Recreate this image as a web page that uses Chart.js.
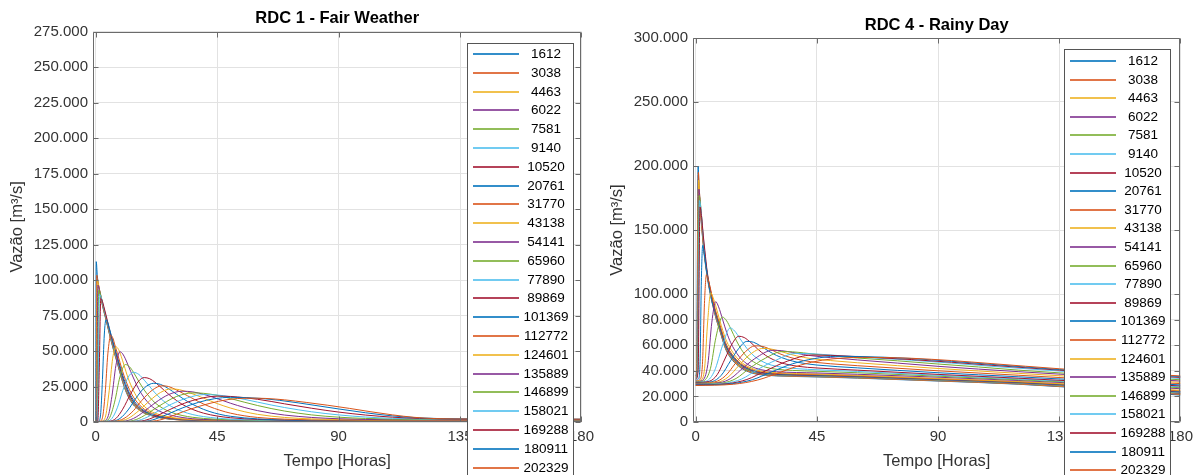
<!DOCTYPE html>
<html>
<head>
<meta charset="utf-8">
<script src="https://cdn.jsdelivr.net/npm/chart.js@4.4.1/dist/chart.umd.min.js"></script>
<style>
  html, body { margin: 0; padding: 0; background: #fff; overflow: hidden; }
  #wrap { position: relative; width: 1199px; height: 475px; }
  canvas { position: absolute; top: 0; }
</style>
</head>
<body>
<div id="wrap">
  <canvas id="c1" width="600" height="475" style="left:0"></canvas>
  <canvas id="c2" width="599" height="475" style="left:600px"></canvas>
</div>
<script>
// ---------- DATA (flows in thousands of m³/s, time in hours) ----------
const stations = ['1612','3038','4463','6022','7581','9140','10520','20761','31770','43138','54141','65960','77890','89869','101369','112772','124601','135889','146899','158021','169288','180911','202329'];

const xTicks = [0, 45, 90, 135, 180];
const fairYTicks = [0, 25000, 50000, 75000, 100000, 125000, 150000, 175000, 200000, 225000, 250000, 275000];
const rainyYTicks = [0, 20000, 40000, 60000, 80000, 100000, 150000, 200000, 250000, 300000];

// RDC 1 - Fair Weather : [hour, flow (x1000 m³/s)]
const fairSeries = [
  [[0,0.5],[0.2,113],[0.6,103],[1,97],[2,86.5],[3,78],[4,70.5],[5,62.5],[6,55],[7,48],[8,41.5],[9,34.5],[10,28],[11,22.5],[12,18],[14,12],[16,8.6],[18,6.2],[20,4.8],[22,3.7],[25,2.6],[28,1.9],[32,1.4],[40,1],[60,0.7],[180,0.5]],
  [[0,0.4],[0.2,3],[0.4,103.5],[0.8,99],[1.2,94.5],[2,87],[3,78.5],[4,71],[5,63],[6,55.5],[7,48.5],[8,42],[9,35],[10,28.5],[11,23],[12,18.5],[14,12.3],[16,8.8],[18,6.3],[20,4.9],[22,3.8],[25,2.7],[28,1.9],[32,1.4],[40,1],[60,0.7],[180,0.5]],
  [[0,0.4],[0.3,2],[0.6,100],[1,97.5],[1.5,92.5],[2,87.5],[3,79],[4,71.5],[5,63.5],[6,56],[7,49],[8,42.5],[9,35.5],[10,29],[11,23.5],[12,19],[14,12.6],[16,9],[18,6.5],[20,5],[22,3.9],[25,2.8],[28,2],[32,1.5],[40,1.1],[60,0.7],[180,0.5]],
  [[0,0.3],[0.4,1.5],[0.8,96.5],[1.2,95],[1.6,91.5],[2,88],[3,79.5],[4,72],[5,64],[6,56.5],[7,49.5],[8,43],[9,36],[10,29.5],[11,24],[12,19.5],[14,13],[16,9.2],[18,6.7],[20,5.1],[22,4],[25,2.9],[28,2.1],[32,1.5],[40,1.1],[60,0.7],[180,0.5]],
  [[0,0.3],[0.5,1.2],[0.8,30],[1.1,93],[1.5,92],[2,88.5],[3,80],[4,72.5],[5,64.5],[6,57],[7,50],[8,43.5],[9,36.5],[10,30],[11,24.5],[12,20],[14,13.4],[16,9.5],[18,6.9],[20,5.3],[22,4.1],[25,3],[28,2.2],[32,1.6],[40,1.1],[60,0.8],[180,0.6]],
  [[0,0.3],[0.6,1],[1,35],[1.4,90],[2,88],[3,80.5],[4,73],[5,65],[6,57.5],[7,50.5],[8,44],[9,37],[10,30.5],[11,25],[12,20.5],[14,13.8],[16,9.8],[18,7.1],[20,5.4],[22,4.2],[25,3.1],[28,2.3],[32,1.6],[40,1.2],[60,0.8],[180,0.6]],
  [[0,0.3],[0.8,1],[1.3,35],[1.9,87],[2.5,85],[3,81.5],[4,74],[5,66],[6,58.5],[7,51.5],[8,45],[9,38],[10,31.5],[11,26],[12,21.3],[14,14.3],[16,10.2],[18,7.4],[20,5.6],[22,4.4],[25,3.2],[28,2.4],[32,1.7],[40,1.2],[60,0.8],[180,0.6]],
  [[0,0.2],[1,0.5],[1.8,5],[2.5,30],[3.2,62],[3.8,72],[4.5,70],[5,66.5],[6,59.5],[7,52.5],[8,46],[9,39.5],[10,33],[11,27.5],[12,22.5],[14,15.5],[16,11],[18,8],[20,6],[22,4.7],[25,3.4],[28,2.5],[32,1.8],[40,1.3],[60,0.9],[180,0.6]],
  [[0,0.2],[1.5,0.5],[2.5,3],[3.5,20],[4.5,48],[5.6,61],[6.5,58.5],[7,55],[8,48.5],[9,42],[10,35.5],[11,30],[12,25],[14,17.5],[16,12.5],[18,9],[20,6.8],[22,5.2],[25,3.8],[28,2.8],[32,2],[40,1.4],[60,0.9],[180,0.7]],
  [[0,0.2],[2,0.5],[3.5,3],[5,22],[6.3,45],[7.5,53],[8.5,51],[9.5,46],[10.5,40],[12,31],[14,22],[16,15.5],[18,11],[20,8],[22,6.2],[25,4.5],[28,3.3],[32,2.3],[40,1.5],[60,1],[180,0.7]],
  [[0,0.2],[2.5,0.5],[4.5,3.5],[6,18],[7.5,40],[9,49.5],[10,48],[11,44.5],[12,40],[14,31],[16,23],[18,17],[20,12.5],[22,9.3],[25,6.5],[28,4.7],[32,3.2],[36,2.3],[40,1.8],[50,1.2],[70,0.9],[180,0.7]],
  [[0,0.2],[3,0.5],[5,2.5],[7,14],[9,32],[11,40.5],[12.5,39],[14,35],[16,28.5],[18,22.5],[20,17.5],[22,13.5],[25,9.5],[28,6.8],[32,4.6],[36,3.3],[40,2.5],[50,1.5],[70,1],[180,0.8]],
  [[0,0.2],[4,0.5],[6,2.5],[8,10],[10,22],[12,31.5],[14,35],[16,33.5],[18,29.5],[20,25],[22,20.5],[25,15],[28,11],[32,7.5],[36,5.2],[40,3.8],[45,2.7],[50,2],[60,1.4],[80,1],[180,0.8]],
  [[0,0.2],[5,0.5],[7.5,2.5],[10,9],[13,20],[16,29],[18,31.3],[20,30.5],[22,28],[25,23],[28,18],[32,12.5],[36,8.8],[40,6.2],[45,4.2],[50,3],[60,1.8],[80,1.1],[180,0.9]],
  [[0,0.2],[6,0.5],[9,2.5],[12,8.5],[15,17],[18,24],[21.5,27.3],[24,26.5],[27,23.5],[30,19.5],[34,14.5],[38,10.5],[42,7.5],[46,5.4],[50,4],[60,2.2],[80,1.2],[180,1]],
  [[0,0.2],[7,0.5],[10.5,2.5],[14,8],[17,15],[21,22.5],[24.5,25.5],[27,25],[30,22.5],[34,18.5],[38,14.5],[42,11],[46,8.3],[50,6.2],[55,4.4],[60,3.2],[70,2],[90,1.3],[180,1.1]],
  [[0,0.2],[8,0.5],[12,2.5],[16,8],[20,15],[24,20.8],[28,23.3],[31,22.8],[35,20.5],[40,16.8],[45,13],[50,9.8],[55,7.3],[60,5.4],[70,3.2],[80,2.2],[100,1.5],[180,1.2]],
  [[0,0.2],[10,0.5],[14,2.5],[18,7.5],[22,13.5],[27,19.3],[32,21.7],[36,21.2],[40,19.5],[45,16.5],[50,13.2],[55,10.3],[60,8],[65,6.2],[70,4.9],[80,3.2],[90,2.3],[110,1.6],[180,1.3]],
  [[0,0.2],[12,0.5],[16,2.5],[20,7],[25,13],[30,18],[36,20.5],[40,20.2],[45,18.8],[50,16.5],[55,14],[60,11.6],[65,9.5],[70,7.7],[80,5],[90,3.4],[100,2.5],[120,1.8],[180,1.5]],
  [[0,0.2],[14,0.5],[18,2.5],[23,7.5],[28,12.5],[34,17],[40,19.3],[45,19],[50,17.8],[55,16],[60,14],[65,12],[70,10.2],[80,7.2],[90,5],[100,3.5],[110,2.6],[125,2],[180,1.7]],
  [[0,0.2],[16,0.5],[20,2.2],[25,6.5],[30,11],[36,15.2],[45,18.2],[50,18],[55,17.2],[60,16],[65,14.5],[70,12.8],[80,9.7],[90,7],[100,4.9],[110,3.4],[120,2.5],[135,2],[180,1.8]],
  [[0,0.2],[18,0.5],[22,2],[27,5.8],[32,9.8],[38,13.8],[44,16.4],[50,17.4],[56,17.2],[62,16.5],[68,15.3],[75,13.5],[82,11.5],[90,9.2],[100,6.5],[110,4.3],[120,2.9],[135,2.2],[180,2]],
  [[0,0.2],[20,0.5],[25,2],[30,5.5],[35,9],[42,13],[49,15.8],[56,16.8],[63,16.6],[70,15.6],[78,13.8],[86,11.8],[94,9.6],[102,7.2],[110,5],[118,3.3],[126,2.4],[140,2.1],[180,2]]
];

// RDC 4 - Rainy Day : [hour, flow (x1000 m³/s)]
const rainySeries = [
  [[0,36],[0.3,40],[0.9,200],[1.3,178],[2,158],[3,134],[4.3,113],[5.5,99],[7.4,82],[9,71],[11.1,57],[13,50],[16,43.5],[19,39.7],[22.3,37.5],[26,36.5],[30,36],[45,35.2],[60,34.3],[90,32],[120,29.5],[150,25.5],[180,21]],
  [[0,35.5],[0.4,40],[1,195],[1.4,177],[2,159],[3,135],[4.3,114],[5.5,100],[7.4,82.5],[9,71.5],[11.1,57.5],[13,50.5],[16,44],[19,40],[22.3,37.8],[26,36.8],[30,36.2],[45,35.4],[60,34.5],[90,32.2],[120,29.7],[150,25.8],[180,21.5]],
  [[0,35],[0.5,40],[1.1,189],[1.5,176],[2,160],[3,136],[4.3,114.5],[5.5,100.5],[7.4,83],[9,72],[11.1,58],[13,51],[16,44.4],[19,40.4],[22.3,38],[26,37],[30,36.4],[45,35.6],[60,34.7],[90,32.4],[120,30],[150,26.2],[180,22]],
  [[0,34.5],[0.6,40],[1.2,182],[1.6,174],[2.2,158],[3,137],[4.3,115],[5.5,101],[7.4,83.5],[9,72.5],[11.1,58.5],[13,51.5],[16,44.8],[19,40.8],[22.3,38.3],[26,37.2],[30,36.6],[45,35.8],[60,34.9],[90,32.6],[120,30.2],[150,26.5],[180,22.3]],
  [[0,34],[0.7,40],[1.3,177],[1.8,170],[2.4,155],[3,138],[4.3,115.5],[5.5,101.5],[7.4,84],[9,73],[11.1,59],[13,52],[16,45.2],[19,41.2],[22.3,38.6],[26,37.5],[30,36.8],[45,36],[60,35.1],[90,32.8],[120,30.4],[150,26.8],[180,22.6]],
  [[0,33.5],[0.8,40],[1.4,173],[2,165],[2.6,150],[3.2,136],[4.3,116],[5.5,102],[7.4,84.5],[9,73.5],[11.1,59.5],[13,52.5],[16,45.6],[19,41.5],[22.3,38.9],[26,37.8],[30,37],[45,36.2],[60,35.3],[90,33],[120,30.6],[150,27],[180,23]],
  [[0,33],[0.9,40],[1.6,168],[2.2,160],[2.8,146],[3.4,134],[4.3,117],[5.5,103],[7.4,85],[9,74],[11.1,60],[13,53],[16,46],[19,41.8],[22.3,39.2],[26,38],[30,37.2],[45,36.4],[60,35.5],[90,33.2],[120,30.8],[150,27.3],[180,23.4]],
  [[0,32.5],[1,33.5],[1.6,45],[2.1,110],[2.6,138],[3.2,131],[4,119],[5,106],[6.2,93],[7.4,85.5],[9,74.5],[11.1,60.5],[13,53.5],[16,46.4],[19,42.2],[22.3,39.5],[26,38.3],[30,37.5],[45,36.6],[60,35.7],[90,33.4],[120,31],[150,27.6],[180,23.8]],
  [[0,32],[1.5,33],[2.5,45],[3.3,95],[4,115],[4.7,111],[5.5,104],[6.5,94],[7.4,87],[9,76],[11.1,62],[13,54.5],[16,47],[19,42.8],[22.3,40],[26,38.7],[30,37.9],[45,37],[60,36],[90,33.7],[120,31.3],[150,28],[180,24.3]],
  [[0,31.8],[2,32.8],[3.3,42],[4.5,80],[5.6,101],[6.5,97],[7.4,91],[9,79],[11.1,65],[13,57],[16,48.5],[19,43.8],[22.3,40.8],[26,39.3],[30,38.5],[45,37.5],[60,36.5],[90,34],[120,31.6],[150,28.3],[180,24.8]],
  [[0,31.5],[2.5,32.5],[4.5,45],[6,78],[7.4,94],[8.5,90],[10,80],[11.5,70],[13,62],[16,51.5],[19,45.5],[22.3,42],[26,40.2],[30,39.3],[45,38.3],[60,37.3],[90,35],[120,32.4],[150,29.4],[180,26]],
  [[0,31.2],[3,32.2],[5.5,42],[7.5,66],[9.9,82],[11.5,79],[13,73],[15,64],[17,56.5],[19,51],[22.3,46],[26,42.8],[30,41.2],[36,40.3],[45,39.6],[60,38.5],[90,35.8],[120,33],[150,30],[180,26.8]],
  [[0,31],[4,32],[7,40],[10,60],[12.8,73.5],[14.5,71],[16.5,65],[19,57.5],[22,51],[25,47],[28,44.5],[32,42.8],[38,41.6],[45,40.8],[60,39.5],[90,36.5],[120,33.6],[150,30.5],[180,27.5]],
  [[0,30.8],[5,31.8],[8,37],[11,50],[13.5,61],[16,67],[18,66],[20.5,62],[23,57],[26,52],[29,48.5],[33,45.5],[38,43.5],[45,42.2],[60,40.5],[90,37.2],[120,34.2],[150,31],[180,28.2]],
  [[0,30.5],[6,31.5],[9.5,36.5],[13,48],[16,57.5],[19,63],[21.5,62.3],[24,59.5],[27,55.5],[30,52],[34,48.8],[38,46.6],[45,44.5],[60,42.3],[90,38.5],[120,35.3],[150,32],[180,29]],
  [[0,30.3],[7,31.3],[11,36],[15,46.5],[18.5,55],[22,59.5],[25,59],[28,56.5],[31,53.5],[35,50.5],[40,48],[45,46.5],[50,45.5],[60,44],[90,40],[120,36.5],[150,33],[180,30]],
  [[0,30],[8,31],[12,35],[16,44],[20,52.5],[25,57.5],[28,57],[31,55.5],[35,53],[40,50.5],[45,49],[50,48],[60,46.3],[75,44],[90,41.8],[120,38],[150,34.3],[180,31]],
  [[0,29.8],[9,30.8],[13,34],[18,43],[23,51],[28.5,56],[32,55.7],[36,54.3],[40,52.7],[45,51.3],[50,50.3],[60,48.5],[75,46],[90,43.5],[120,39.3],[150,35.5],[180,32]],
  [[0,29.5],[10,30.5],[15,34],[20,42],[26,50],[32,55],[36,54.8],[40,54],[45,52.8],[50,51.8],[60,50],[75,47.8],[90,45.3],[105,43],[120,40.5],[150,36.5],[180,33]],
  [[0,29.3],[11,30.3],[17,33.5],[23,41],[30,48.5],[37,53.5],[42,53.4],[47,52.8],[55,51.6],[65,50.2],[80,48.3],[95,46],[110,43.5],[135,39.8],[160,36.5],[180,34]],
  [[0,29],[12,30],[19,33.2],[26,40],[34,47.5],[43,52.3],[50,52.1],[58,51.3],[68,50.2],[80,48.8],[95,46.7],[110,44.3],[135,40.5],[160,37.2],[180,34.8]],
  [[0,28.8],[13,29.8],[21,33],[28,39],[36,45.5],[44,49.5],[52,51.3],[60,51.2],[70,50.6],[80,49.6],[95,47.4],[110,45],[135,41],[160,37.8],[180,35.5]],
  [[0,28.5],[14,29.5],[23,32.8],[31,38.5],[39,44.5],[47,48.3],[55,50],[62,50.5],[70,50.4],[80,49.8],[95,48],[110,45.6],[135,41.6],[160,38.3],[180,36]]
];

// ---------- STYLE ----------
const palette = ['#0072BD','#D95319','#EDB120','#7E2F8E','#77AC30','#4DBEEE','#A2142F'];
const FONT = '"Liberation Sans", Arial, Helvetica, sans-serif';
Chart.defaults.font.family = FONT;
Chart.defaults.color = '#333';

function ptBR(v) {
  return String(Math.round(v)).replace(/\B(?=(\d{3})+(?!\d))/g, '.');
}

const framePlugin = {
  id: 'frame',
  afterDatasetsDraw(chart) {
    const {ctx, chartArea: a, scales: {x, y}} = chart;
    ctx.save();
    ctx.strokeStyle = '#6b6b6b';
    ctx.lineWidth = 1;
    const L = Math.round(a.left) + 0.5, R = Math.round(a.right) - 0.5;
    const T = Math.round(a.top) + 0.5, B = Math.round(a.bottom) - 0.5;
    ctx.beginPath();
    ctx.rect(L, T, R - L, B - T);
    x.ticks.forEach(t => {
      const px = Math.round(x.getPixelForValue(t.value)) + 0.5;
      ctx.moveTo(px, B); ctx.lineTo(px, B - 5);
      ctx.moveTo(px, T); ctx.lineTo(px, T + 5);
    });
    y.ticks.forEach(t => {
      const py = Math.round(y.getPixelForValue(t.value)) + 0.5;
      ctx.moveTo(L, py); ctx.lineTo(L + 5, py);
      ctx.moveTo(R, py); ctx.lineTo(R - 5, py);
    });
    ctx.stroke();
    ctx.restore();
  }
};

const boxLegend = {
  id: 'boxLegend',
  afterDraw(chart, args, o) {
    const ctx = chart.ctx;
    const n = chart.data.datasets.length;
    const h = o.rowTop * 2 + (n - 1) * o.rowGap;
    ctx.save();
    ctx.fillStyle = '#fff';
    ctx.fillRect(o.x, o.y, o.w, h);
    ctx.strokeStyle = '#555';
    ctx.lineWidth = 1;
    ctx.strokeRect(o.x + 0.5, o.y + 0.5, o.w, h);
    ctx.font = '13.5px ' + FONT;
    ctx.textAlign = 'center';
    ctx.textBaseline = 'middle';
    chart.data.datasets.forEach((ds, i) => {
      const yy = Math.round(o.y + o.rowTop + i * o.rowGap);
      ctx.globalAlpha = 0.8;
      ctx.strokeStyle = ds.borderColor;
      ctx.lineWidth = 2;
      ctx.beginPath();
      ctx.moveTo(o.x + 6, yy);
      ctx.lineTo(o.x + 52, yy);
      ctx.stroke();
      ctx.globalAlpha = 1;
      ctx.fillStyle = '#000';
      ctx.fillText(ds.label, o.x + 79, yy);
    });
    ctx.restore();
  }
};

function makeChart(id, title, series, yMax, yTicks, cfg) {
  const datasets = series.map((pts, i) => ({
    label: stations[i],
    data: pts.map(([t, q]) => ({x: t, y: q * 1000})),
    borderColor: palette[i % palette.length],
    borderWidth: 1,
    pointRadius: 0,
    fill: false,
    cubicInterpolationMode: 'monotone',
    order: series.length - i
  }));
  return new Chart(document.getElementById(id), {
    type: 'line',
    data: {datasets},
    plugins: [framePlugin, boxLegend],
    options: {
      responsive: false,
      animation: false,
      devicePixelRatio: 1,
      events: [],
      layout: {padding: {left: 0, right: cfg.padRight, top: 0, bottom: 0}},
      plugins: {
        legend: {display: false},
        tooltip: {enabled: false},
        title: {
          display: true,
          text: title,
          fullSize: false,
          color: '#000',
          font: {size: 16.5, weight: 'bold', family: FONT},
          padding: {top: cfg.titleTop, bottom: cfg.titleBottom}
        },
        boxLegend: cfg.legend
      },
      scales: {
        x: {
          type: 'linear',
          min: -1,
          max: 180,
          afterBuildTicks: s => { s.ticks = xTicks.map(v => ({value: v})); },
          afterFit: s => { s.height = 53; },
          grid: {color: '#e2e2e2', drawTicks: false},
          border: {display: false},
          ticks: {color: '#333', font: {size: 15}, padding: 6, maxRotation: 0, autoSkip: false, callback: v => String(v)},
          title: {display: true, text: 'Tempo [Horas]', color: '#333', font: {size: 16.5}, padding: {top: 0, bottom: 4}}
        },
        y: {
          type: 'linear',
          min: 0,
          max: yMax,
          afterBuildTicks: s => { s.ticks = yTicks.map(v => ({value: v})); },
          afterFit: s => { s.width = 93; },
          grid: {color: '#e2e2e2', drawTicks: false},
          border: {display: false},
          ticks: {color: '#333', font: {size: 15}, padding: 5, autoSkip: false, callback: v => ptBR(v)},
          title: {display: true, text: 'Vazão [m³/s]', color: '#333', font: {size: 16.5}, padding: {top: 8, bottom: 0}}
        }
      }
    }
  });
}

makeChart('c1', 'RDC 1 - Fair Weather', fairSeries, 275000, fairYTicks, {
  padRight: 15, titleTop: 9, titleBottom: 3,
  legend: {x: 467, y: 43, w: 106, rowTop: 11, rowGap: 18.8}
});
makeChart('c2', 'RDC 4 - Rainy Day', rainySeries, 300000, rainyYTicks, {
  padRight: 18, titleTop: 15.5, titleBottom: 2.7,
  legend: {x: 464, y: 49, w: 106, rowTop: 12, rowGap: 18.6}
});
</script>
</body>
</html>
